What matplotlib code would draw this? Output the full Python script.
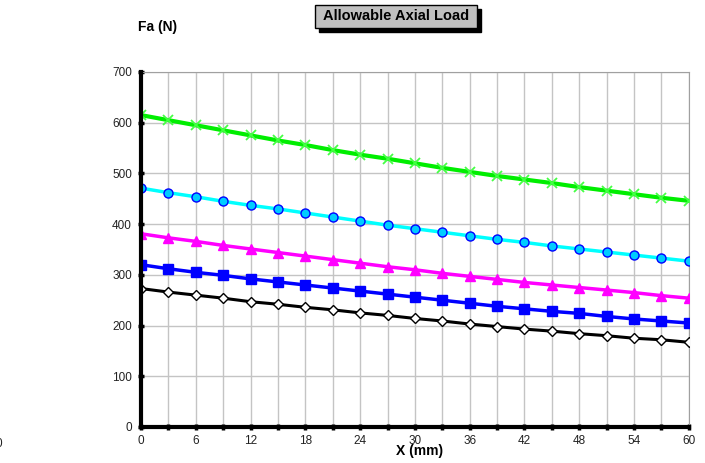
import matplotlib
matplotlib.use('Agg')
import matplotlib.pyplot as plt
from matplotlib.patches import Rectangle
from matplotlib.ticker import MultipleLocator

plt.rcParams['font.family'] = ['Liberation Sans', 'DejaVu Sans']

# Data
x_mm = [0, 3, 6, 9, 12, 15, 18, 21, 24, 27, 30, 33, 36, 39, 42, 45, 48, 51, 54, 57, 60]
fa_green = [615, 605, 595, 585, 575, 565, 556, 546, 537, 529, 520, 511, 503, 495, 488, 481, 473, 466, 459, 452, 446]
fa_cyan = [471, 462, 454, 445, 437, 430, 422, 414, 406, 398, 391, 384, 377, 370, 364, 357, 351, 345, 339, 333, 327]
fa_magenta = [381, 373, 366, 358, 351, 344, 337, 330, 323, 316, 310, 303, 297, 291, 285, 280, 275, 270, 265, 259, 254]
fa_blue = [320, 312, 305, 299, 292, 286, 280, 274, 268, 262, 256, 250, 244, 238, 233, 228, 224, 218, 213, 209, 205]
fa_black = [273, 266, 260, 254, 247, 242, 236, 231, 225, 220, 214, 209, 203, 198, 193, 189, 184, 180, 175, 172, 167]

fig = plt.figure(figsize=(7.05, 4.63), dpi=100)
ax = fig.add_axes([0.2, 0.0778, 0.777, 0.7667])

ax.plot(x_mm, fa_green, color='#00ee00', lw=3, marker='x', ms=6.5, mec='#44ff44', mew=1.3, zorder=5)
ax.plot(x_mm, fa_cyan, color='#00ffff', lw=2.5, marker='o', ms=6.5, mfc='#00ccff', mec='#0000ff', mew=1.0, zorder=5)
ax.plot(x_mm, fa_magenta, color='#ff00ff', lw=2.5, marker='^', ms=7, mfc='#ff00ff', mec='#ff00ff', zorder=5)
ax.plot(x_mm, fa_blue, color='#0000ff', lw=2.5, marker='s', ms=6.5, mfc='#0000ff', mec='#0000ff', zorder=5)
ax.plot(x_mm, fa_black, color='black', lw=2.2, marker='D', ms=5, mfc='white', mec='black', mew=1.0, zorder=5)

ax.set_xlim(0, 60)
ax.set_ylim(0, 700)
ax.xaxis.set_major_locator(MultipleLocator(6))
ax.xaxis.set_minor_locator(MultipleLocator(3))
ax.yaxis.set_major_locator(MultipleLocator(100))
ax.grid(True, which='both', color='#c4c4c4', lw=1)
ax.set_axisbelow(True)

for side in ['top', 'right']:
    ax.spines[side].set_color('#a0a0a0')
    ax.spines[side].set_linewidth(0.8)
for side in ['left', 'bottom']:
    ax.spines[side].set_color('black')
    ax.spines[side].set_linewidth(3)
    ax.spines[side].set_zorder(6)

ax.tick_params(axis='both', which='both', direction='inout', length=5, width=2.5, color='black', labelsize=8.5, labelcolor='#222222')
ax.tick_params(axis='y', pad=4)
ax.tick_params(axis='x', pad=3)

# axis titles
fig.text(138 / 705, 1 - 27 / 463, 'Fa (N)', fontsize=10, fontweight='bold', ha='left', va='center')
fig.text(420 / 705, 1 - 451 / 463, 'X (mm)', fontsize=10, fontweight='bold', ha='center', va='center')

# title box with shadow
bx, by, bw, bh = 315 / 705, 1 - 28 / 463, 162 / 705, 23 / 463
fig.patches.append(Rectangle((bx + 4 / 705, by - 4 / 463), bw, bh, transform=fig.transFigure,
                             facecolor='black', edgecolor='black', zorder=1))
fig.patches.append(Rectangle((bx, by), bw, bh, transform=fig.transFigure,
                             facecolor='#c0c0c0', edgecolor='black', lw=1, zorder=2))
fig.text(bx + bw / 2, by + bh / 2, 'Allowable Axial Load', fontsize=10.5, fontweight='bold',
         ha='center', va='center', zorder=3)

# stray label at the left edge
fig.text(-4 / 705, 1 - 444 / 463, '0', fontsize=8.5, color='#222222', ha='left', va='center')

fig.savefig('out.png', dpi=100)
